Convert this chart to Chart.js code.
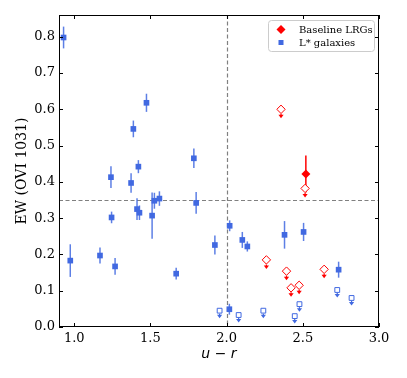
<!DOCTYPE html>
<html>
<head>
<meta charset="utf-8">
<script src="https://cdn.jsdelivr.net/npm/chart.js@4.4.0/dist/chart.umd.min.js"></script>
<style>
  html, body { margin: 0; padding: 0; background: #fff; }
</style>
</head>
<body>
<canvas id="oviChart" width="407" height="378"></canvas>
<script>
// EW (OVI 1031) vs u - r colour

// L* galaxies, detections
const lstarX   = [0.93, 0.974, 1.169, 1.241, 1.245, 1.268, 1.373, 1.388, 1.421, 1.412, 1.428, 1.474, 1.511,
                  1.526, 1.559, 1.669, 1.785, 1.80, 1.923, 2.02, 2.018, 2.103, 2.136, 2.38, 2.505, 2.735];
const lstarY   = [0.798, 0.183, 0.197, 0.413, 0.302, 0.167, 0.397, 0.546, 0.442, 0.325, 0.315, 0.618, 0.307,
                  0.348, 0.354, 0.147, 0.465, 0.342, 0.226, 0.279, 0.049, 0.24, 0.222, 0.254, 0.262, 0.158];
const lstarErr = [0.03, 0.045, 0.022, 0.03, 0.016, 0.023, 0.027, 0.023, 0.018, 0.03, 0.02, 0.025, 0.064,
                  0.022, 0.02, 0.016, 0.027, 0.03, 0.026, 0.015, 0.015, 0.022, 0.014, 0.038, 0.025, 0.022];

// L* galaxies, upper limits
const lstarLimX = [1.954, 2.079, 2.241, 2.447, 2.478, 2.726, 2.82];
const lstarLimY = [0.045, 0.033, 0.045, 0.030, 0.063, 0.102, 0.08];

// Baseline LRGs, detection
const lrgX   = [2.52];
const lrgY   = [0.422];
const lrgErr = [0.051];

// Baseline LRGs, upper limits
const lrgLimX = [2.357, 2.515, 2.261, 2.393, 2.423, 2.476, 2.64];
const lrgLimY = [0.60, 0.382, 0.185, 0.154, 0.108, 0.115, 0.159];

// reference cuts
const cutColor = 2.0;
const cutEW = 0.35;

// axis ticks
const xTicks = [1.0, 1.5, 2.0, 2.5, 3.0];
const yTicks = [0.0, 0.1, 0.2, 0.3, 0.4, 0.5, 0.6, 0.7, 0.8];

const blue = '#4169e1';
const red = '#ff0000';
const serif = '"DejaVu Serif", serif';

const toPoints = (xs, ys) => xs.map((v, i) => ({ x: v, y: ys[i] }));

function drawErrorBars(ctx, x, y, xs, ys, errs, color) {
  ctx.strokeStyle = color;
  ctx.lineWidth = 1.5;
  xs.forEach((v, i) => {
    const px = x.getPixelForValue(v);
    ctx.beginPath();
    ctx.moveTo(px, y.getPixelForValue(ys[i] - errs[i]));
    ctx.lineTo(px, y.getPixelForValue(ys[i] + errs[i]));
    ctx.stroke();
  });
}

function drawArrows(ctx, x, y, xs, ys, start, len, color) {
  ctx.strokeStyle = color;
  ctx.fillStyle = color;
  ctx.lineWidth = 1.2;
  xs.forEach((v, i) => {
    const px = x.getPixelForValue(v);
    const py = y.getPixelForValue(ys[i]);
    ctx.beginPath();
    ctx.moveTo(px, py + start);
    ctx.lineTo(px, py + len - 2);
    ctx.stroke();
    ctx.beginPath();
    ctx.moveTo(px - 2.6, py + len - 3.5);
    ctx.lineTo(px + 2.6, py + len - 3.5);
    ctx.lineTo(px, py + len);
    ctx.closePath();
    ctx.fill();
  });
}

const overlay = {
  id: 'overlay',
  beforeDatasetsDraw(chart) {
    const { ctx, chartArea: a, scales: { x, y } } = chart;
    ctx.save();
    // dashed cut lines
    ctx.strokeStyle = '#808080';
    ctx.lineWidth = 1.2;
    ctx.setLineDash([4, 2.5]);
    const cx = Math.round(x.getPixelForValue(cutColor)) + 0.5;
    const cy = Math.round(y.getPixelForValue(cutEW)) + 0.5;
    ctx.beginPath();
    ctx.moveTo(cx, a.top);
    ctx.lineTo(cx, a.bottom);
    ctx.moveTo(a.left, cy);
    ctx.lineTo(a.right, cy);
    ctx.stroke();
    ctx.setLineDash([]);
    // error bars
    drawErrorBars(ctx, x, y, lstarX, lstarY, lstarErr, 'rgba(65,105,225,0.85)');
    drawErrorBars(ctx, x, y, lrgX, lrgY, lrgErr, red);
    ctx.restore();
  },
  afterDatasetsDraw(chart) {
    const { ctx, chartArea: a, scales: { x, y } } = chart;
    ctx.save();
    drawArrows(ctx, x, y, lstarLimX, lstarLimY, 3, 7.5, blue);
    drawArrows(ctx, x, y, lrgLimX, lrgLimY, 4.5, 9, red);

    // frame
    ctx.strokeStyle = '#000';
    ctx.lineWidth = 1;
    ctx.strokeRect(a.left + 0.5, a.top + 0.5, a.right - a.left - 1, a.bottom - a.top - 1);

    // inward ticks on all sides
    ctx.beginPath();
    xTicks.forEach(v => {
      const px = Math.round(x.getPixelForValue(v)) + 0.5;
      ctx.moveTo(px, a.bottom); ctx.lineTo(px, a.bottom - 4);
      ctx.moveTo(px, a.top); ctx.lineTo(px, a.top + 4);
    });
    yTicks.forEach(v => {
      const py = Math.round(y.getPixelForValue(v)) + 0.5;
      ctx.moveTo(a.left, py); ctx.lineTo(a.left + 4, py);
      ctx.moveTo(a.right, py); ctx.lineTo(a.right - 4, py);
    });
    ctx.stroke();

    // legend box
    const lx = 268, ly = 20, lw = 106, lh = 31;
    ctx.fillStyle = 'rgba(255,255,255,0.85)';
    ctx.strokeStyle = '#cccccc';
    ctx.beginPath();
    ctx.roundRect(lx + 0.5, ly + 0.5, lw, lh, 3);
    ctx.fill();
    ctx.stroke();

    // red diamond
    ctx.fillStyle = red;
    ctx.beginPath();
    ctx.moveTo(281, 25); ctx.lineTo(285.5, 29.5); ctx.lineTo(281, 34); ctx.lineTo(276.5, 29.5);
    ctx.closePath();
    ctx.fill();
    // blue square
    ctx.fillStyle = blue;
    ctx.fillRect(278.5, 40, 5, 5);

    ctx.fillStyle = '#000';
    ctx.font = '10px ' + serif;
    ctx.textBaseline = 'middle';
    ctx.fillText('Baseline LRGs', 299, 30);
    ctx.fillText('L* galaxies', 299, 43);
    ctx.restore();
  }
};

new Chart(document.getElementById('oviChart'), {
  type: 'scatter',
  data: {
    datasets: [
      {
        label: 'L* galaxies',
        data: toPoints(lstarX, lstarY),
        pointStyle: 'rect',
        pointRadius: 4,
        backgroundColor: blue,
        borderColor: blue,
        borderWidth: 0,
      },
      {
        label: 'L* limits',
        data: toPoints(lstarLimX, lstarLimY),
        pointStyle: 'rect',
        pointRadius: 3.4,
        backgroundColor: '#ffffff',
        borderColor: blue,
        borderWidth: 1,
      },
      {
        label: 'LRG limits',
        data: toPoints(lrgLimX, lrgLimY),
        pointStyle: 'rectRot',
        pointRadius: 4.2,
        backgroundColor: '#ffffff',
        borderColor: red,
        borderWidth: 1,
      },
      {
        label: 'Baseline LRGs',
        data: toPoints(lrgX, lrgY),
        pointStyle: 'rectRot',
        pointRadius: 4.5,
        backgroundColor: red,
        borderColor: red,
        borderWidth: 0,
      }
    ]
  },
  options: {
    responsive: false,
    animation: false,
    layout: {
      padding: { left: 0, top: 15, right: 28, bottom: 0 }
    },
    plugins: {
      legend: { display: false },
      tooltip: { enabled: false }
    },
    scales: {
      x: {
        type: 'linear',
        min: 0.9,
        max: 3.0,
        afterBuildTicks: s => { s.ticks = xTicks.map(v => ({ value: v })); },
        afterFit: s => { s.height = 51; },
        grid: { display: false, drawTicks: false },
        border: { display: false },
        ticks: {
          color: '#000',
          padding: 4,
          autoSkip: false,
          maxRotation: 0,
          font: { family: serif, size: 13 },
          callback: v => v.toFixed(1)
        },
        title: {
          display: true,
          text: 'u − r',
          color: '#000',
          font: { family: '"DejaVu Sans", sans-serif', size: 14, style: 'italic' },
          padding: { top: 0, bottom: 15 }
        }
      },
      y: {
        type: 'linear',
        min: 0,
        max: 0.86,
        afterBuildTicks: s => { s.ticks = yTicks.map(v => ({ value: v })); },
        afterFit: s => { s.width = 59; },
        grid: { display: false, drawTicks: false },
        border: { display: false },
        ticks: {
          color: '#000',
          padding: 4,
          autoSkip: false,
          font: { family: serif, size: 13 },
          callback: v => v.toFixed(1)
        },
        title: {
          display: true,
          text: 'EW (OVI 1031)',
          color: '#000',
          font: { family: serif, size: 14 },
          padding: { top: 14, bottom: 0 }
        }
      }
    }
  },
  plugins: [overlay]
});
</script>
</body>
</html>
